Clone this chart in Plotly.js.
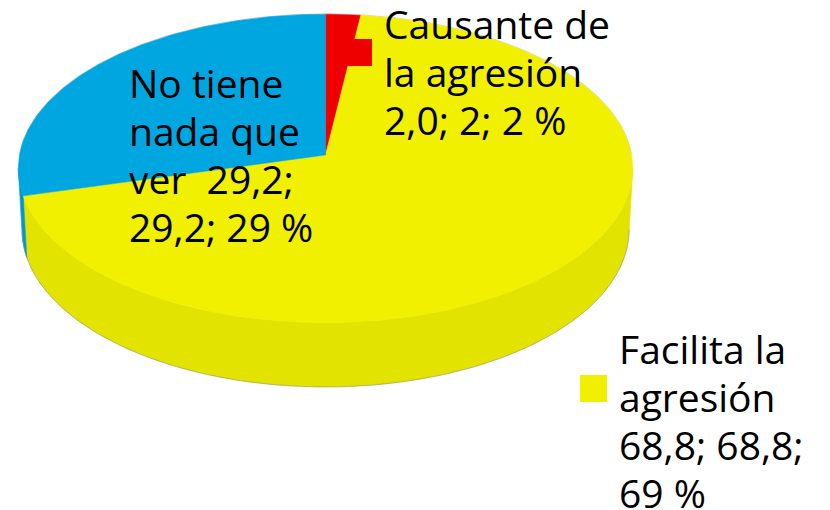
<!DOCTYPE html>
<html>
<head>
<meta charset="utf-8">
<script src="https://cdn.plot.ly/plotly-3.0.1.min.js"></script>
<style>html,body{margin:0;padding:0;background:#fff;}#chart{width:830px;height:510px;}</style>
</head>
<body>
<div id="chart"></div>
<script>
// Data
const labels = ["Causante de la agresión", "Facilita la agresión", "No tiene nada que ver"];
const values = [2.0, 68.8, 29.2];
const percents = ["2 %", "69 %", "29 %"];
const topColors = ["#EE0000", "#F0F000", "#00A6E0"];
const sideColors = ["#D60000", "#E3E300", "#0098CE"];

// 3D perspective pie geometry (pixel space)
const cx = 325.5, cy = 155;          // projected centre of top face
const elev = 30 * Math.PI / 180;     // viewing elevation
const dist = 9.96, focal = 3048;     // camera distance (radius units) & focal length (px)
const height = 0.232;                // thickness in radius units
const se = Math.sin(elev), ce = Math.cos(elev);

function project(deg, Y) {
  const t = deg * Math.PI / 180;
  const X = Math.sin(t), Z = Math.cos(t);
  const yc = Y * ce + Z * se;
  const zc = dist + Z * ce - Y * se;
  return [cx + focal * X / zc, cy - focal * yc / zc];
}

const total = values.reduce((a, b) => a + b, 0);
const arcs = [];
let start = 0;
values.forEach(v => { const end = start + 360 * v / total; arcs.push([start, end]); start = end; });

// visible side range (silhouettes)
const silA = Math.acos(-ce / dist) * 180 / Math.PI;
const sideFrom = silA, sideTo = 360 - silA;

const traces = [];
arcs.forEach(([a, b], i) => {
  const s = Math.max(a, sideFrom), e = Math.min(b, sideTo);
  if (e <= s) return;
  const xs = [], ys = [];
  const n = Math.max(4, Math.ceil((e - s) / 1));
  for (let k = 0; k <= n; k++) { const p = project(s + (e - s) * k / n, 0); xs.push(p[0]); ys.push(p[1]); }
  for (let k = n; k >= 0; k--) { const p = project(s + (e - s) * k / n, -height); xs.push(p[0]); ys.push(p[1]); }
  xs.push(xs[0]); ys.push(ys[0]);
  traces.push({type: "scatter", mode: "lines", x: xs, y: ys, fill: "toself",
    fillcolor: sideColors[i], line: {width: 0.6, color: sideColors[i]}, hoverinfo: "skip", showlegend: false});
});
// faint bottom outline
(function () {
  const xs = [], ys = [];
  for (let d = sideFrom; d <= sideTo; d += 1) { const p = project(d, -height); xs.push(p[0]); ys.push(p[1]); }
  traces.push({type: "scatter", mode: "lines", x: xs, y: ys, line: {width: 1, color: "rgba(140,140,140,0.55)"}, hoverinfo: "skip", showlegend: false});
})();
// faint top-back outline
(function () {
  const xs = [], ys = [];
  for (let d = -90; d <= 90; d += 1) { const p = project(d, 0); xs.push(p[0]); ys.push(p[1] - 0.4); }
  traces.push({type: "scatter", mode: "lines", x: xs, y: ys, line: {width: 1, color: "rgba(160,160,160,0.45)"}, hoverinfo: "skip", showlegend: false});
})();
// top faces
arcs.forEach(([a, b], i) => {
  const c = project(0, 0);
  const xs = [cx], ys = [cy];
  const n = Math.max(4, Math.ceil((b - a) / 1));
  for (let k = 0; k <= n; k++) { const p = project(a + (b - a) * k / n, 0); xs.push(p[0]); ys.push(p[1]); }
  xs.push(cx); ys.push(cy);
  traces.push({type: "scatter", mode: "lines", x: xs, y: ys, fill: "toself",
    fillcolor: topColors[i], line: {width: 0.5, color: topColors[i]}, hoverinfo: "skip", showlegend: false});
});

const fmt = v => v.toFixed(1).replace(".", ",");
const fs = 39;
const fnt = {family: "'Open Sans', sans-serif", size: fs, color: "#000"};
const NB = "\u00A0";
// label blocks: [x, first baseline, lines]
const blocks = [
  [383, 38, ["Causante de", "la agresión", fmt(values[0]) + "; " + Math.round(values[0]) + "; " + percents[0]]],
  [128, 97, ["No tiene", "nada que", "ver" + NB + NB + fmt(values[2]) + ";", fmt(values[2]) + "; " + percents[2]]],
  [618, 363, ["Facilita la", "agresión", fmt(values[1]) + "; " + fmt(values[1]) + ";", percents[1]]]
];
const lineGap = 47.8;
const annotations = [];
blocks.forEach(([x, base, lines]) => {
  lines.forEach((t, k) => {
    annotations.push({text: t, x: x, y: base + k * lineGap - 0.36 * fs, xref: "x", yref: "y",
      xanchor: "left", yanchor: "middle", align: "left", showarrow: false, font: fnt, borderpad: 0});
  });
});

const keys = [[345, 39, 0], [88, 110, 2], [580, 375, 1]];
const shapes = keys.map(([x, y, i]) => ({type: "rect", xref: "x", yref: "y", x0: x, x1: x + 27, y0: y, y1: y + 27,
  fillcolor: topColors[i], line: {width: 0}}));

Plotly.newPlot("chart", traces, {
  width: 830, height: 510, margin: {l: 0, r: 0, t: 0, b: 0},
  paper_bgcolor: "#fff", plot_bgcolor: "#fff",
  xaxis: {range: [0, 830], visible: false, fixedrange: true},
  yaxis: {range: [510, 0], visible: false, fixedrange: true},
  annotations: annotations, shapes: shapes, showlegend: false
}, {displayModeBar: false, staticPlot: true});
</script>
</body>
</html>
